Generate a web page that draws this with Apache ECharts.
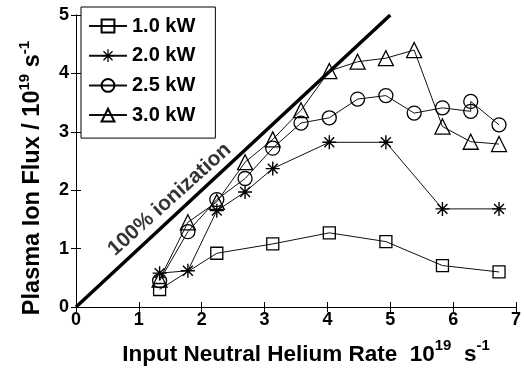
<!DOCTYPE html>
<html><head><meta charset="utf-8">
<script src="https://cdn.jsdelivr.net/npm/echarts@6/dist/echarts.min.js"></script>
<style>html,body{margin:0;padding:0;background:#fff}#c{width:524px;height:371px}</style>
</head><body><div id="c"></div>
<script>
const seriesNames = ['1.0 kW', '2.0 kW', '2.5 kW', '3.0 kW'];
const kw10 = [[1.33,0.30],[2.24,0.92],[3.13,1.08],[4.03,1.27],[4.93,1.12],[5.83,0.71],[6.73,0.60]];
const kw20 = [[1.33,0.58],[1.78,0.62],[2.24,1.65],[2.69,1.97],[3.13,2.37],[4.03,2.82],[4.93,2.82],[5.83,1.68],[6.73,1.68]];
const kw25 = [[1.33,0.45],[1.78,1.29],[2.24,1.84],[2.69,2.20],[3.13,2.72],[3.58,3.15],[4.03,3.24],[4.48,3.56],[4.93,3.62],[5.38,3.32],[5.83,3.41],[6.28,3.35],[6.28,3.52],[6.73,3.12]];
const kw30 = [[1.33,0.47],[1.78,1.45],[2.24,1.80],[2.69,2.48],[3.13,2.87],[3.58,3.37],[4.03,4.04],[4.48,4.20],[4.93,4.26],[5.38,4.40],[5.83,3.09],[6.28,2.83],[6.73,2.79]];
const ionLine = [[0,0],[5,5]];
const ionLabelPos = [[1.49,1.84]];
const ionLabel = '100% ionization';

const STAR = 'path://M-1,-10L1,-10L1,10L-1,10Z M-10,-1L10,-1L10,1L-10,1Z M-6.36,-7.78L7.78,6.36L6.36,7.78L-7.78,-6.36Z M6.36,-7.78L7.78,-6.36L-6.36,7.78L-7.78,6.36Z';
const FONT = 'Liberation Sans, Arial, sans-serif';
const hollow = {color:'rgba(255,255,255,0)', borderColor:'#000', borderWidth:1.3};
const lineSt = {color:'#111', width:1};

function mk(name, data, symbol, size, itemStyle){
  return {name, type:'line', data, symbol, symbolSize:size, showAllSymbol:true,
    lineStyle:lineSt, itemStyle, emphasis:{disabled:true}, animation:false, z:3};
}
function titleRich(fs){
  return {
    a:{fontFamily:FONT, fontWeight:'bold', fontSize:fs, color:'#000', lineHeight:28, verticalAlign:'bottom'},
    s:{fontFamily:FONT, fontWeight:'bold', fontSize:15, color:'#000', lineHeight:28, verticalAlign:'top', padding:[0,0,4,0]}
  };
}

const chart = echarts.init(document.getElementById('c'), null, {renderer:'canvas'});
const axisCommon = {
  axisLine:{show:true, lineStyle:{color:'#000', width:1}},
  axisTick:{show:true, inside:true, length:5, lineStyle:{color:'#000'}},
  splitLine:{show:false}
};
chart.setOption({
  animation:false,
  backgroundColor:'#fff',
  grid:{left:76, right:2, top:15, bottom:57, show:false},
  legend:{
    data:seriesNames, orient:'vertical', left:81, top:7,
    backgroundColor:'#fff', borderColor:'#000', borderWidth:1,
    padding:[9,20,13,7], itemGap:9.7, itemWidth:38, itemHeight:16,
    textStyle:{fontFamily:FONT, fontWeight:'bold', fontSize:20, color:'#000'},
    selectedMode:false
  },
  xAxis:[
    Object.assign({type:'value', min:0, max:7, interval:1, position:'bottom',
      axisLabel:{fontFamily:FONT, fontWeight:'bold', fontSize:18, color:'#000', margin:4},
      name:'{a|Input Neutral Helium Rate  10}{s|19}{a|  s}{s|-1}', nameLocation:'middle', nameGap:31,
      nameTextStyle:{padding:[0,0,0,20], rich:titleRich(22.5)}}, axisCommon),
    Object.assign({type:'value', min:0, max:7, interval:1, position:'top', axisLabel:{show:false}}, axisCommon)
  ],
  yAxis:[
    Object.assign({type:'value', min:0, max:5, interval:1, position:'left',
      axisLabel:{fontFamily:FONT, fontWeight:'bold', fontSize:18, color:'#000', margin:7},
      name:'{a|Plasma Ion Flux / 10}{s|19}{a| s}{s|-1}', nameLocation:'middle', nameGap:31, nameRotate:90,
      nameTextStyle:{padding:[0,34,0,0], rich:titleRich(23.5)}}, axisCommon),
    Object.assign({type:'value', min:0, max:5, interval:1, position:'right', axisLabel:{show:false}}, axisCommon)
  ],
  series:[
    {type:'line', data:ionLine, symbol:'none', lineStyle:{color:'#000', width:3.5}, z:2, silent:true},
    {type:'scatter', data:ionLabelPos, symbolSize:0, silent:true,
      label:{show:true, position:'inside', rotate:42, formatter:ionLabel,
        fontFamily:FONT, fontWeight:'bold', fontSize:21, color:'#000'}},
    mk(seriesNames[0], kw10, 'rect', 12, hollow),
    mk(seriesNames[1], kw20, STAR, 14, {color:'#000', borderWidth:0}),
    mk(seriesNames[2], kw25, 'circle', 14, hollow),
    mk(seriesNames[3], kw30, 'triangle', 15, hollow)
  ]
});
</script></body></html>
